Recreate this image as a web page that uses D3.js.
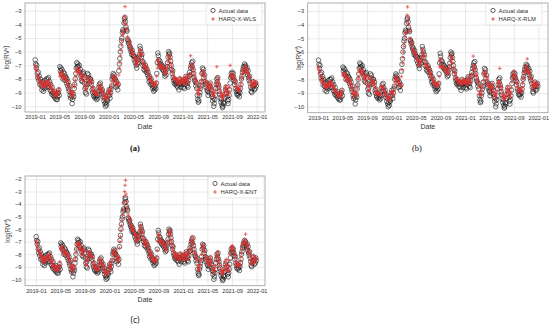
<!DOCTYPE html>
<html>
<head>
<meta charset="utf-8">
<script src="https://cdn.jsdelivr.net/npm/d3@7"></script>
<style>
  body { margin: 0; background: #fff; }
  svg { display: block; font-family: "Liberation Sans", Arial, sans-serif; }
</style>
</head>
<body>
<svg width="550" height="330"></svg>
<script>
// observation window; values below are spread evenly over it, 12 per month
var firstDay = "2019-01-02", lastDay = "2021-12-30";
var tickDates = ["2019-01","2019-05","2019-09","2020-01","2020-05","2020-09","2021-01","2021-05","2021-09","2022-01"];
var yTicksTop = [-10, -9, -8, -7, -6, -5, -4, -3];
var yTicksBottom = [-10, -9, -8, -7, -6, -5, -4, -3, -2];
var modelNames = ["HARQ-X-WLS", "HARQ-X-RLM", "HARQ-X-ENT"];
var panelLabels = ["(a)", "(b)", "(c)"];

// log realised variance, one row per month
var actual = [
 -6.6,-6.9,-7.2,-7.0,-7.6,-7.9,-7.5,-8.1,-7.8,-8.4,-8.0,-8.3,
 -8.5,-8.8,-8.2,-8.6,-8.9,-8.3,-8.7,-8.1,-8.5,-8.4,-8.0,-8.6,
 -8.0,-8.3,-7.9,-8.6,-8.2,-8.8,-8.4,-8.9,-9.1,-8.6,-9.0,-9.2,
 -9.0,-9.3,-8.9,-9.4,-9.2,-9.5,-9.1,-9.5,-9.3,-9.0,-8.8,-9.2,
 -7.1,-7.4,-7.2,-7.6,-7.3,-7.7,-8.0,-7.5,-7.9,-7.6,-8.1,-7.8,
 -7.9,-8.3,-8.0,-8.5,-8.2,-8.7,-8.9,-8.5,-9.2,-9.4,-9.0,-9.3,
 -9.8,-9.5,-9.1,-9.3,-8.7,-8.4,-8.0,-7.6,-7.2,-6.8,-7.1,-6.9,
 -7.1,-7.4,-7.0,-7.5,-7.3,-7.8,-8.1,-7.7,-8.2,-7.6,-7.5,-7.9,
 -8.3,-8.7,-9.0,-8.6,-9.1,-8.4,-7.6,-7.9,-7.7,-8.1,-8.3,-8.0,
 -8.0,-8.4,-8.2,-8.8,-9.0,-8.7,-9.2,-9.3,-9.0,-9.4,-9.1,-9.3,
 -9.5,-9.2,-9.4,-8.9,-8.6,-8.4,-8.8,-8.3,-8.6,-8.9,-9.1,-8.8,
 -9.3,-9.1,-9.6,-9.4,-9.8,-10.0,-9.7,-9.9,-9.5,-9.6,-9.2,-9.0,
 -8.8,-9.2,-9.4,-9.0,-8.7,-8.5,-8.0,-7.8,-7.6,-7.9,-7.7,-8.0,
 -8.0,-8.3,-8.6,-8.2,-8.5,-8.8,-8.4,-7.4,-6.9,-6.5,-6.0,-5.6,
 -5.2,-5.0,-4.6,-4.4,-4.5,-3.9,-3.6,-3.5,-3.8,-4.2,-4.4,-4.5,
 -5.1,-5.2,-5.4,-5.3,-5.6,-5.8,-5.7,-6.0,-6.2,-5.9,-6.1,-6.3,
 -6.3,-6.6,-6.4,-6.8,-6.5,-7.0,-7.2,-6.9,-6.6,-6.8,-6.4,-6.2,
 -5.6,-5.8,-6.0,-6.4,-6.2,-6.7,-7.0,-6.8,-7.3,-7.1,-7.4,-7.0,
 -7.2,-7.5,-7.3,-7.7,-7.5,-7.9,-8.2,-7.8,-8.1,-8.4,-8.0,-8.3,
 -8.5,-8.7,-8.4,-8.9,-8.6,-8.8,-8.5,-8.7,-8.3,-7.6,-6.8,-6.1,
 -6.3,-6.6,-6.9,-6.7,-7.1,-6.9,-7.2,-7.0,-7.3,-7.1,-7.4,-7.2,
 -7.6,-7.8,-7.5,-7.7,-7.3,-7.1,-6.8,-6.4,-6.0,-6.2,-6.1,-6.4,
 -6.7,-7.0,-7.3,-7.6,-7.4,-7.9,-8.1,-8.3,-8.0,-8.4,-8.2,-8.3,
 -8.5,-8.2,-8.6,-8.3,-8.8,-8.4,-8.0,-8.3,-8.6,-8.2,-8.4,-8.1,
 -8.3,-8.6,-8.2,-8.7,-8.4,-8.0,-7.8,-8.2,-8.5,-8.3,-8.6,-8.1,
 -7.8,-7.5,-7.7,-7.2,-7.0,-6.8,-7.1,-6.7,-7.3,-7.6,-7.9,-8.1,
 -8.2,-8.5,-8.3,-8.7,-9.2,-9.5,-9.7,-9.6,-9.2,-9.0,-8.7,-8.5,
 -8.2,-7.6,-7.2,-7.5,-7.3,-7.9,-7.7,-8.2,-8.4,-8.6,-8.3,-8.8,
 -8.9,-9.2,-8.7,-9.0,-8.5,-8.3,-8.6,-8.8,-9.1,-9.3,-9.6,-9.4,
 -10.0,-9.8,-9.5,-9.2,-8.7,-8.4,-8.0,-8.2,-7.9,-8.4,-8.6,-8.9,
 -9.1,-9.4,-9.7,-9.5,-9.9,-10.1,-10.0,-9.7,-9.8,-9.4,-9.1,-8.8,
 -8.6,-9.0,-9.3,-9.6,-9.8,-9.5,-9.2,-8.8,-8.3,-7.9,-7.6,-7.8,
 -7.5,-7.8,-7.6,-7.9,-8.1,-8.4,-8.2,-8.7,-8.9,-9.1,-8.8,-9.2,
 -9.1,-8.9,-9.3,-9.0,-8.7,-8.4,-8.0,-7.8,-7.5,-7.3,-7.1,-7.4,
 -6.9,-7.1,-7.0,-7.3,-7.5,-7.2,-7.7,-7.4,-7.9,-8.1,-7.8,-8.3,
 -8.6,-8.9,-9.0,-8.7,-8.5,-8.2,-8.5,-8.8,-8.4,-8.7,-8.3,-8.5
];

var predWLS = [
 -7.0,-7.2,-7.4,-7.3,-7.7,-7.9,-7.8,-8.1,-8.0,-8.3,-8.2,-8.3,
 -8.4,-8.6,-8.3,-8.5,-8.6,-8.3,-8.5,-8.2,-8.4,-8.4,-8.2,-8.5,
 -8.2,-8.3,-8.1,-8.5,-8.3,-8.6,-8.4,-8.7,-8.9,-8.6,-8.8,-9.0,
 -8.9,-9.1,-8.9,-9.2,-9.1,-9.3,-9.0,-9.2,-9.1,-8.9,-8.7,-8.9,
 -7.8,-7.6,-7.5,-7.7,-7.5,-7.8,-8.0,-7.7,-7.9,-7.8,-8.0,-7.9,
 -8.0,-8.2,-8.1,-8.4,-8.2,-8.5,-8.7,-8.5,-8.9,-9.1,-8.9,-9.0,
 -9.3,-9.2,-9.0,-9.0,-8.6,-8.4,-8.1,-7.8,-7.5,-7.3,-7.3,-7.2,
 -7.4,-7.5,-7.3,-7.6,-7.5,-7.8,-8.0,-7.8,-8.1,-7.8,-7.7,-7.9,
 -8.2,-8.5,-8.7,-8.5,-8.8,-8.4,-7.9,-8.0,-7.9,-8.1,-8.2,-8.1,
 -8.1,-8.3,-8.2,-8.6,-8.8,-8.6,-8.9,-9.0,-8.9,-9.1,-9.0,-9.1,
 -9.2,-9.0,-9.1,-8.8,-8.6,-8.5,-8.7,-8.4,-8.6,-8.8,-8.9,-8.8,
 -9.1,-9.0,-9.3,-9.2,-9.4,-9.5,-9.4,-9.5,-9.3,-9.3,-9.1,-8.9,
 -8.8,-9.0,-9.1,-8.9,-8.7,-8.5,-8.2,-8.0,-7.8,-7.9,-7.8,-8.0,
 -8.0,-8.2,-8.4,-8.2,-8.4,-8.5,-8.3,-7.7,-7.2,-6.8,-6.3,-5.9,
 -5.5,-5.2,-4.8,-4.5,-4.6,-3.9,-3.4,-2.7,-3.6,-4.0,-4.3,-4.4,
 -4.9,-5.1,-5.3,-5.3,-5.5,-5.7,-5.7,-5.9,-6.1,-5.9,-6.0,-6.2,
 -6.2,-6.5,-6.4,-6.7,-6.5,-6.9,-7.0,-6.8,-6.6,-6.7,-6.4,-6.2,
 -5.9,-5.9,-6.1,-6.3,-6.2,-6.6,-6.9,-6.8,-7.1,-7.0,-7.2,-7.0,
 -7.1,-7.3,-7.2,-7.5,-7.4,-7.7,-8.0,-7.8,-8.0,-8.2,-8.0,-8.1,
 -8.2,-8.4,-8.3,-8.5,-8.4,-8.5,-8.3,-8.4,-8.2,-7.8,-7.2,-6.6,
 -6.6,-6.8,-7.0,-6.9,-7.1,-7.0,-7.2,-7.0,-7.2,-7.1,-7.3,-7.2,
 -7.5,-7.6,-7.4,-7.6,-7.3,-7.2,-7.0,-6.7,-6.3,-6.4,-6.3,-6.5,
 -6.8,-7.0,-7.2,-7.5,-7.4,-7.7,-7.9,-8.0,-7.9,-8.1,-8.0,-8.1,
 -8.2,-8.0,-8.3,-8.1,-8.4,-8.2,-7.9,-8.1,-8.3,-8.0,-8.2,-8.0,
 -8.1,-8.3,-8.0,-8.4,-8.2,-7.9,-7.8,-8.0,-8.2,-8.1,-8.3,-8.0,
 -7.8,-7.6,-7.7,-6.3,-7.1,-7.0,-7.2,-6.9,-7.3,-7.5,-7.7,-7.9,
 -8.0,-8.2,-8.1,-8.4,-8.8,-9.0,-9.1,-9.1,-8.8,-8.7,-8.5,-8.3,
 -8.1,-7.7,-7.4,-7.6,-7.5,-7.8,-7.7,-8.0,-8.2,-8.3,-8.2,-8.5,
 -8.6,-8.8,-8.5,-8.7,-8.4,-8.3,-8.5,-8.6,-8.8,-9.0,-9.1,-9.0,
 -9.3,-9.2,-9.0,-8.8,-8.5,-8.3,-7.1,-8.1,-7.9,-8.3,-8.4,-8.6,
 -8.8,-9.0,-9.2,-9.1,-9.3,-9.4,-9.4,-9.2,-9.2,-9.0,-8.8,-8.6,
 -8.5,-8.7,-8.9,-9.1,-9.2,-9.0,-8.9,-8.6,-7.0,-7.9,-7.7,-7.8,
 -7.6,-7.8,-7.7,-7.9,-8.0,-8.2,-8.1,-8.4,-8.6,-8.7,-8.6,-8.8,
 -8.8,-8.7,-8.9,-8.7,-8.5,-8.3,-8.0,-7.8,-7.6,-7.4,-7.3,-7.5,
 -7.1,-7.2,-7.1,-7.3,-7.5,-7.3,-7.6,-7.5,-7.8,-7.9,-7.8,-8.1,
 -8.3,-8.5,-8.6,-8.5,-8.3,-8.1,-8.3,-8.5,-8.3,-8.4,-8.2,-8.3
];

var predRLM = [
 -7.1,-7.3,-7.5,-7.4,-7.8,-8.0,-7.8,-8.1,-8.1,-8.3,-8.2,-8.4,
 -8.4,-8.6,-8.4,-8.5,-8.6,-8.4,-8.5,-8.3,-8.4,-8.5,-8.2,-8.4,
 -8.2,-8.4,-8.2,-8.5,-8.4,-8.6,-8.5,-8.8,-8.9,-8.7,-8.8,-9.0,
 -9.0,-9.1,-9.0,-9.2,-9.2,-9.3,-9.1,-9.2,-9.2,-9.0,-8.8,-8.9,
 -7.7,-7.6,-7.6,-7.8,-7.5,-7.8,-8.1,-7.8,-8.0,-7.8,-8.1,-8.0,
 -8.0,-8.3,-8.1,-8.4,-8.3,-8.6,-8.8,-8.6,-9.0,-9.1,-8.9,-9.0,
 -9.3,-9.2,-9.0,-9.1,-8.7,-8.4,-8.0,-7.8,-7.5,-7.3,-7.4,-7.3,
 -7.4,-7.6,-7.4,-7.7,-7.5,-7.9,-8.0,-7.8,-8.1,-7.8,-7.7,-7.9,
 -8.3,-8.5,-8.8,-8.5,-8.8,-8.4,-7.8,-8.0,-7.9,-8.2,-8.2,-8.1,
 -8.2,-8.4,-8.3,-8.6,-8.9,-8.7,-9.0,-9.1,-9.0,-9.1,-9.0,-9.1,
 -9.2,-9.1,-9.1,-8.8,-8.6,-8.5,-8.7,-8.5,-8.6,-8.8,-9.0,-8.9,
 -9.1,-9.1,-9.3,-9.3,-9.4,-9.5,-9.5,-9.5,-9.3,-9.3,-9.1,-8.9,
 -8.9,-9.0,-9.1,-8.9,-8.8,-8.5,-8.2,-8.0,-7.8,-8.0,-7.8,-8.0,
 -8.1,-8.2,-8.4,-8.3,-8.4,-8.5,-8.4,-7.8,-7.3,-6.8,-6.4,-6.0,
 -5.6,-5.3,-4.9,-4.6,-4.6,-3.8,-3.3,-2.7,-3.5,-4.0,-4.4,-4.5,
 -5.0,-5.1,-5.3,-5.4,-5.5,-5.8,-5.8,-6.0,-6.1,-6.0,-6.1,-6.2,
 -6.3,-6.5,-6.5,-6.7,-6.6,-6.9,-7.0,-6.9,-6.7,-6.7,-6.5,-6.3,
 -5.8,-6.0,-6.1,-6.3,-6.3,-6.6,-6.9,-6.8,-7.1,-7.1,-7.2,-7.0,
 -7.1,-7.4,-7.3,-7.6,-7.5,-7.7,-7.9,-7.9,-8.0,-8.2,-8.1,-8.2,
 -8.3,-8.4,-8.4,-8.5,-8.4,-8.5,-8.3,-8.4,-8.2,-7.8,-7.1,-6.5,
 -6.6,-6.8,-7.0,-7.0,-7.1,-7.1,-7.2,-7.1,-7.3,-7.2,-7.4,-7.3,
 -7.5,-7.6,-7.5,-7.6,-7.3,-7.2,-7.0,-6.7,-6.2,-6.4,-6.4,-6.5,
 -6.8,-7.1,-7.3,-7.5,-7.5,-7.7,-7.9,-8.0,-7.9,-8.1,-8.1,-8.2,
 -8.3,-8.1,-8.3,-8.2,-8.4,-8.2,-8.0,-8.1,-8.3,-8.1,-8.2,-8.1,
 -8.2,-8.3,-8.1,-8.4,-8.2,-8.0,-7.8,-8.0,-8.2,-8.2,-8.3,-8.1,
 -7.9,-7.6,-7.7,-7.3,-6.3,-7.0,-7.2,-7.0,-7.3,-7.6,-7.7,-7.8,
 -8.0,-8.2,-8.2,-8.5,-8.9,-9.1,-9.2,-9.1,-8.9,-8.7,-8.5,-8.4,
 -8.1,-7.6,-7.4,-7.6,-7.6,-7.8,-7.8,-8.0,-8.2,-8.4,-8.3,-8.5,
 -8.6,-8.9,-8.6,-8.7,-8.4,-8.3,-8.5,-8.7,-8.9,-9.0,-9.2,-9.1,
 -9.4,-9.2,-9.0,-8.8,-8.5,-8.3,-8.1,-8.2,-7.2,-8.3,-8.5,-8.6,
 -8.8,-9.1,-9.3,-9.2,-9.4,-9.5,-9.4,-9.3,-9.2,-9.0,-8.9,-8.7,
 -8.5,-8.8,-9.0,-9.2,-9.3,-9.1,-8.9,-8.6,-8.2,-7.9,-7.6,-7.7,
 -7.4,-7.7,-7.7,-7.9,-8.0,-8.3,-8.2,-8.5,-8.7,-8.8,-8.6,-8.9,
 -8.9,-8.7,-8.9,-8.8,-8.6,-8.3,-8.0,-7.8,-7.5,-7.4,-7.2,-7.4,
 -7.0,-7.1,-6.5,-7.3,-7.5,-7.4,-7.6,-7.5,-7.8,-8.0,-7.9,-8.2,
 -8.4,-8.6,-8.7,-8.5,-8.4,-8.2,-8.3,-8.5,-8.3,-8.5,-8.3,-8.4
];

var predENT = [
 -6.9,-7.1,-7.4,-7.2,-7.6,-7.8,-7.7,-8.0,-7.9,-8.2,-8.1,-8.3,
 -8.4,-8.6,-8.3,-8.5,-8.7,-8.3,-8.5,-8.2,-8.4,-8.3,-8.1,-8.4,
 -8.1,-8.3,-8.0,-8.5,-8.2,-8.6,-8.4,-8.8,-9.0,-8.6,-8.9,-9.1,
 -9.0,-9.2,-8.9,-9.3,-9.1,-9.3,-9.0,-9.3,-9.2,-8.9,-8.6,-8.9,
 -7.6,-7.5,-7.4,-7.7,-7.4,-7.8,-8.0,-7.7,-7.9,-7.7,-8.0,-7.9,
 -8.0,-8.2,-8.0,-8.4,-8.2,-8.6,-8.8,-8.5,-9.0,-9.2,-8.9,-9.1,
 -9.4,-9.2,-8.9,-9.0,-8.5,-8.3,-7.9,-7.6,-7.3,-7.1,-7.2,-7.1,
 -7.3,-7.5,-7.2,-7.6,-7.4,-7.8,-8.0,-7.7,-8.1,-7.7,-7.6,-7.8,
 -8.2,-8.6,-8.8,-8.5,-8.9,-8.4,-7.8,-8.0,-7.8,-8.1,-8.2,-8.0,
 -8.1,-8.3,-8.2,-8.7,-8.9,-8.6,-9.0,-9.1,-8.9,-9.2,-9.0,-9.2,
 -9.3,-9.1,-9.2,-8.8,-8.5,-8.4,-8.7,-8.4,-8.6,-8.8,-9.0,-8.8,
 -9.2,-9.0,-9.4,-9.3,-9.5,-9.6,-9.5,-9.6,-9.4,-9.4,-9.1,-8.9,
 -8.7,-9.0,-9.2,-8.9,-8.6,-8.4,-8.0,-7.8,-7.7,-7.9,-7.7,-8.0,
 -8.0,-8.2,-8.5,-8.2,-8.4,-8.6,-8.3,-7.5,-7.0,-6.6,-6.1,-5.7,
 -5.3,-4.9,-4.5,-3.9,-3.4,-3.0,-2.5,-2.1,-3.2,-3.8,-4.2,-4.4,
 -4.8,-5.0,-5.3,-5.2,-5.5,-5.7,-5.7,-5.9,-6.1,-5.9,-6.0,-6.2,
 -6.2,-6.5,-6.4,-6.8,-6.5,-6.9,-7.0,-6.8,-6.6,-6.7,-6.4,-6.2,
 -5.7,-5.9,-6.0,-6.3,-6.2,-6.6,-6.9,-6.8,-7.2,-7.1,-7.3,-6.9,
 -7.1,-7.4,-7.2,-7.6,-7.4,-7.8,-8.1,-7.8,-8.0,-8.3,-8.0,-8.2,
 -8.3,-8.5,-8.4,-8.6,-8.5,-8.6,-8.4,-8.5,-8.2,-7.7,-7.0,-6.4,
 -6.5,-6.7,-6.9,-6.8,-7.0,-6.9,-7.1,-7.0,-7.2,-7.1,-7.3,-7.2,
 -7.5,-7.7,-7.4,-7.6,-7.3,-7.1,-6.9,-6.5,-6.1,-6.3,-6.2,-6.4,
 -6.8,-7.0,-7.2,-7.6,-7.4,-7.8,-8.0,-8.2,-7.9,-8.2,-8.1,-8.1,
 -8.3,-8.0,-8.4,-8.2,-8.5,-8.3,-7.9,-8.2,-8.4,-8.0,-8.3,-8.0,
 -8.1,-8.4,-8.1,-8.5,-8.2,-7.9,-7.8,-8.1,-8.3,-8.1,-8.4,-8.0,
 -7.8,-7.5,-7.6,-7.1,-6.9,-6.6,-7.0,-6.8,-7.2,-7.5,-7.8,-7.9,
 -8.0,-8.3,-8.2,-8.5,-8.9,-9.2,-9.3,-9.2,-9.0,-8.8,-8.5,-8.4,
 -8.0,-7.5,-7.2,-7.5,-7.3,-7.8,-7.7,-8.1,-8.3,-8.4,-8.3,-8.6,
 -8.7,-8.9,-8.6,-8.8,-8.4,-8.2,-8.5,-8.7,-8.9,-9.1,-9.3,-9.2,
 -9.5,-9.3,-9.1,-8.9,-8.5,-8.2,-7.9,-8.1,-7.8,-8.3,-8.5,-8.7,
 -8.9,-9.2,-9.4,-9.3,-9.5,-9.6,-9.5,-9.3,-9.3,-9.1,-8.9,-8.6,
 -8.4,-8.8,-9.1,-9.3,-9.4,-9.2,-8.9,-8.5,-8.0,-7.7,-7.4,-7.6,
 -7.3,-7.6,-7.5,-7.8,-8.0,-8.3,-8.1,-8.6,-8.8,-8.9,-8.7,-8.9,
 -8.9,-8.8,-9.0,-8.8,-8.5,-8.2,-7.9,-7.6,-7.3,-7.1,-7.0,-7.2,
 -6.8,-7.0,-6.4,-7.1,-7.4,-7.2,-7.6,-7.3,-7.8,-8.0,-7.8,-8.2,
 -8.5,-8.7,-8.8,-8.6,-8.4,-8.1,-8.4,-8.7,-8.3,-8.6,-8.3,-8.4
];

var svg = d3.select("svg");
var parseDay = d3.timeParse("%Y-%m-%d");
var parseMonth = d3.timeParse("%Y-%m");
var t0 = parseDay(firstDay), t1 = parseDay(lastDay);
var ticks = tickDates.map(parseMonth);

function dateAt(i, n) {
  return new Date(+t0 + (t1 - t0) * i / (n - 1));
}

var panels = [
  { pred: predWLS, left: 25, right: 265, top: 3, bottom: 112, x19: 35, x22: 256.7,
    yA: -3, yApx: 10.7, yB: -10, yBpx: 106.3, yTicks: yTicksTop,
    ylabX: 7, dateY: 128.5, subX: 135, subY: 151, subFont: "Liberation Serif", subBold: true,
    legX: 206, legY: 4 },
  { pred: predRLM, left: 307.7, right: 548, top: 3, bottom: 112.7, x19: 318.3, x22: 538.3,
    yA: -3, yApx: 11, yB: -10, yBpx: 106.7, yTicks: yTicksTop,
    ylabX: 298.5, dateY: 129, subX: 417, subY: 151, subFont: "Liberation Serif", subBold: false,
    legX: 486, legY: 4 },
  { pred: predENT, left: 25, right: 265, top: 176, bottom: 285.7, x19: 36, x22: 256.7,
    yA: -2, yApx: 179, yB: -10, yBpx: 279.3, yTicks: yTicksBottom,
    ylabX: 7.5, dateY: 302, subX: 135, subY: 323, subFont: "Open Sans", subBold: false,
    legX: 208, legY: 177 }
];

var plusPath = "M-1.8,0H1.8M0,-1.8V1.8";

panels.forEach(function(p, k) {
  var x = d3.scaleTime().domain([ticks[0], ticks[ticks.length - 1]]).range([p.x19, p.x22]);
  var y = d3.scaleLinear().domain([p.yB, p.yA]).range([p.yBpx, p.yApx]);
  var g = svg.append("g");
  var w = p.right - p.left, h = p.bottom - p.top;

  // grid
  g.append("g")
    .attr("transform", "translate(0," + p.bottom + ")")
    .call(d3.axisBottom(x).tickValues(ticks).tickSize(-h).tickFormat(""))
    .call(function(a) { a.select(".domain").remove(); a.selectAll("line").attr("stroke", "#dcdcdc").attr("stroke-width", 0.6); });
  g.append("g")
    .attr("transform", "translate(" + p.left + ",0)")
    .call(d3.axisLeft(y).tickValues(p.yTicks).tickSize(-w).tickFormat(""))
    .call(function(a) { a.select(".domain").remove(); a.selectAll("line").attr("stroke", "#dcdcdc").attr("stroke-width", 0.6); });

  // tick labels
  g.append("g")
    .attr("transform", "translate(0," + p.bottom + ")")
    .call(d3.axisBottom(x).tickValues(ticks).tickSize(0).tickPadding(3).tickFormat(d3.timeFormat("%Y-%m")))
    .call(function(a) { a.select(".domain").remove(); a.selectAll("text").attr("font-size", 5.6).attr("fill", "#333").attr("font-family", "Liberation Sans, Arial, sans-serif"); });
  g.append("g")
    .attr("transform", "translate(" + p.left + ",0)")
    .call(d3.axisLeft(y).tickValues(p.yTicks).tickSize(0).tickPadding(3.5).tickFormat(function(d) { return "\u2212" + Math.abs(d); }))
    .call(function(a) { a.select(".domain").remove(); a.selectAll("text").attr("font-size", 5.8).attr("fill", "#333").attr("font-family", "Liberation Sans, Arial, sans-serif"); });

  // actual data
  g.append("g").selectAll("circle")
    .data(actual)
    .enter().append("circle")
      .attr("cx", function(d, i) { return x(dateAt(i, actual.length)); })
      .attr("cy", function(d) { return y(d); })
      .attr("r", 2.3)
      .attr("fill", "none")
      .attr("stroke", "#111")
      .attr("stroke-opacity", 0.85)
      .attr("stroke-width", 0.7);

  // model forecasts
  var pg = g.append("g");
  pg.selectAll("path.halo")
    .data(p.pred)
    .enter().append("path")
      .attr("class", "halo")
      .attr("d", plusPath)
      .attr("transform", function(d, i) { return "translate(" + x(dateAt(i, p.pred.length)) + "," + y(d) + ")"; })
      .attr("stroke", "#ff8fa8")
      .attr("stroke-opacity", 0.12)
      .attr("stroke-width", 3.6);
  pg.selectAll("path.mk")
    .data(p.pred)
    .enter().append("path")
      .attr("class", "mk")
      .attr("d", plusPath)
      .attr("transform", function(d, i) { return "translate(" + x(dateAt(i, p.pred.length)) + "," + y(d) + ")"; })
      .attr("stroke", "#dd2f2a")
      .attr("stroke-opacity", 0.75)
      .attr("stroke-width", 0.85);

  // frame
  g.append("rect")
    .attr("x", p.left).attr("y", p.top).attr("width", w).attr("height", h)
    .attr("fill", "none").attr("stroke", "#9a9a9a").attr("stroke-width", 0.8);

  // legend
  var lg = g.append("g").attr("transform", "translate(" + p.legX + "," + p.legY + ")");
  lg.append("rect").attr("width", 56).attr("height", 21).attr("rx", 1.5)
    .attr("fill", "#fff").attr("fill-opacity", 0.85).attr("stroke", "#d8d8d8").attr("stroke-width", 0.6);
  lg.append("circle").attr("cx", 7).attr("cy", 6.5).attr("r", 2.1)
    .attr("fill", "none").attr("stroke", "#2a1a1a").attr("stroke-width", 0.7);
  lg.append("path").attr("d", plusPath).attr("transform", "translate(7,15)")
    .attr("stroke", "#e0352f").attr("stroke-width", 0.8);
  lg.append("text").attr("x", 12.5).attr("y", 8.6).attr("font-size", 5.9).attr("fill", "#333").text("Actual data");
  lg.append("text").attr("x", 12.5).attr("y", 17.1).attr("font-size", 5.9).attr("fill", "#333").text(modelNames[k]);

  // axis titles
  var mid = (p.top + p.bottom) / 2;
  var yl = g.append("text")
    .attr("transform", "translate(" + p.ylabX + "," + mid + ") rotate(-90)")
    .attr("text-anchor", "middle").attr("dy", "0.35em")
    .attr("font-size", 6.3).attr("fill", "#333");
  yl.append("tspan").text("log(RV");
  yl.append("tspan").attr("font-size", 4.2).attr("dy", "-0.6em").text("d");
  yl.append("tspan").attr("dy", "0.25em").text(")");

  g.append("text")
    .attr("x", (p.left + p.right) / 2).attr("y", p.dateY)
    .attr("text-anchor", "middle").attr("font-size", 7).attr("fill", "#333")
    .text("Date");

  g.append("text")
    .attr("x", p.subX).attr("y", p.subY)
    .attr("text-anchor", "middle").attr("font-size", 8.5)
    .attr("font-family", p.subFont)
    .attr("font-weight", p.subBold ? "bold" : "normal")
    .attr("fill", "#111")
    .text(panelLabels[k]);
});
</script>
</body>
</html>
